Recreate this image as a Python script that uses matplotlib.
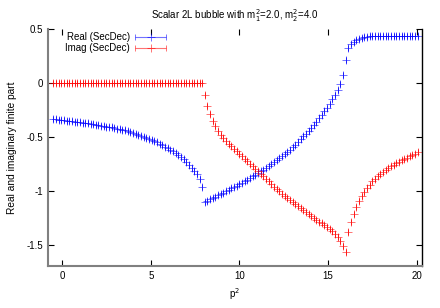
import numpy as np
import matplotlib
matplotlib.use("Agg")
import matplotlib.pyplot as plt
from matplotlib.container import ErrorbarContainer
from matplotlib.legend_handler import HandlerErrorbar

plt.rcParams['font.family'] = ['Liberation Sans', 'DejaVu Sans']

# p^2 sample points (step 0.15 from -0.5)
p2 = [round(-0.5 + 0.15 * k, 2) for k in range(138)]

real_part = [
    -0.333, -0.337, -0.340, -0.344, -0.347, -0.350, -0.353, -0.356, -0.359, -0.362,
    -0.365, -0.369, -0.372, -0.376, -0.380, -0.384, -0.388, -0.392, -0.396, -0.400,
    -0.405, -0.410, -0.414, -0.419, -0.424, -0.430, -0.436, -0.442, -0.449, -0.456,
    -0.465, -0.473, -0.482, -0.491, -0.500, -0.510, -0.520, -0.530, -0.541, -0.553,
    -0.565, -0.578, -0.592, -0.606, -0.620, -0.636, -0.653, -0.671, -0.690, -0.711,
    -0.735, -0.760, -0.786, -0.816, -0.850, -0.895, -0.970,
    -1.106, -1.094, -1.081, -1.069, -1.057, -1.044, -1.032, -1.019, -1.006, -0.993,
    -0.980, -0.967, -0.953, -0.940, -0.926, -0.911, -0.897, -0.882, -0.868, -0.853,
    -0.838, -0.821, -0.805, -0.788, -0.771, -0.754, -0.737, -0.720, -0.701, -0.681,
    -0.661, -0.640, -0.619, -0.598, -0.573, -0.548, -0.522, -0.497, -0.471, -0.445,
    -0.418, -0.389, -0.359, -0.328, -0.296, -0.263, -0.229, -0.192, -0.152, -0.110,
    -0.065, -0.008, 0.077, 0.216,
    0.320, 0.358, 0.383, 0.398, 0.409, 0.417, 0.423, 0.427, 0.430, 0.432,
    0.434, 0.435, 0.436, 0.437, 0.437, 0.438, 0.438, 0.438, 0.438, 0.438,
    0.438, 0.438, 0.438, 0.438, 0.438, 0.438, 0.438,
]

imag_part = [0.0] * 57 + [
    -0.115, -0.215, -0.290, -0.350, -0.400, -0.443, -0.480, -0.513, -0.541, -0.566,
    -0.590, -0.612, -0.634, -0.657, -0.680, -0.703, -0.726, -0.749, -0.772, -0.795,
    -0.818, -0.842, -0.866, -0.890, -0.914, -0.938, -0.962, -0.985, -1.007, -1.028,
    -1.049, -1.070, -1.090, -1.109, -1.127, -1.145, -1.163, -1.181, -1.199, -1.217,
    -1.235, -1.252, -1.269, -1.287, -1.304, -1.321, -1.338, -1.357, -1.378, -1.402,
    -1.430, -1.465, -1.510, -1.565,
    -1.380, -1.295, -1.215, -1.150, -1.095, -1.050, -1.010, -0.975, -0.943, -0.915,
    -0.890, -0.867, -0.846, -0.826, -0.808, -0.791, -0.775, -0.760, -0.746, -0.732,
    -0.719, -0.706, -0.694, -0.682, -0.670, -0.658, -0.646,
]

# numerical errors are too small to see
real_err = [0.0] * len(p2)
imag_err = [0.0] * len(p2)

fs = 7

fig = plt.figure(figsize=(4.4, 3.08), dpi=100)
ax = fig.add_axes([0.109, 0.136, 0.85, 0.77])

ax.errorbar(p2, real_part, xerr=real_err, fmt='+', color='#0000ff', ms=6,
            mew=0.7, elinewidth=0.8, capsize=2, alpha=0.55, label='Real (SecDec)')
ax.errorbar(p2, imag_part, xerr=imag_err, fmt='+', color='#ff0000', ms=6,
            mew=0.7, elinewidth=0.8, capsize=2, alpha=0.55, label='Imag (SecDec)')

ax.set_xlim(-0.8, 20.3)
ax.set_ylim(-1.7, 0.5)
ax.set_xticks([0, 5, 10, 15, 20])
ax.set_yticks([0.5, 0, -0.5, -1, -1.5])
ax.set_yticklabels(['0.5', '0', '-0.5', '-1', '-1.5'])
ax.tick_params(direction='in', top=True, right=True, labelsize=fs, length=4, width=0.8)

ax.spines['top'].set_visible(False)
ax.spines['left'].set_color('#808080')
ax.spines['bottom'].set_color('#808080')
ax.spines['left'].set_linewidth(1.5)
ax.spines['bottom'].set_linewidth(1.5)
ax.spines['right'].set_linewidth(1.0)

ax.set_title('Scalar 2L bubble with m$_1^2$=2.0, m$_2^2$=4.0', fontsize=fs, pad=7)
ax.set_xlabel('p$^2$', fontsize=fs, labelpad=4)
ax.set_ylabel('Real and imaginary finite part', fontsize=7.3, labelpad=7)

leg = ax.legend(loc='upper left', bbox_to_anchor=(0.031, 1.012), frameon=False,
                markerfirst=False, fontsize=fs, handlelength=3.2, handletextpad=0.5,
                labelspacing=0.15, borderaxespad=0.2,
                handler_map={ErrorbarContainer: HandlerErrorbar(xerr_size=1.6)})

fig.savefig('out.png', dpi=100)
